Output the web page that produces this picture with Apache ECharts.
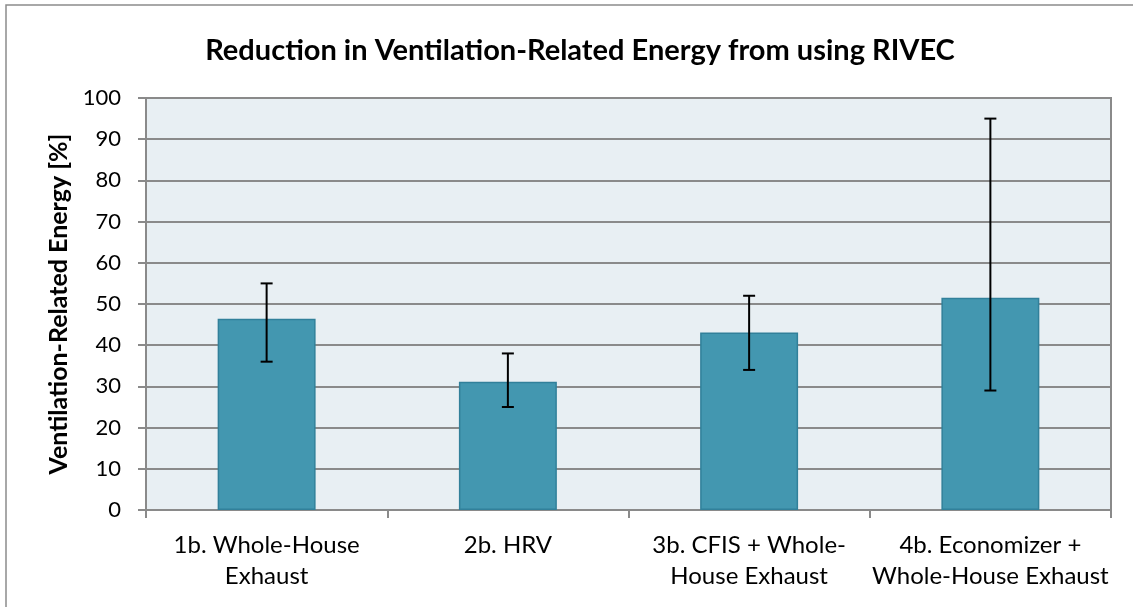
<!DOCTYPE html>
<html>
<head>
<meta charset="utf-8">
<script src="https://cdn.jsdelivr.net/npm/echarts@6/dist/echarts.min.js"></script>
<style>
  html, body { margin: 0; padding: 0; background: #fff; }
  #chart { width: 1133px; height: 607px; }
</style>
</head>
<body>
<div id="chart"></div>
<script>
const categories = ['1b. Whole-House\nExhaust', '2b. HRV', '3b. CFIS + Whole-\nHouse Exhaust', '4b. Economizer +\nWhole-House Exhaust'];
const values = [46.4, 31.1, 43.1, 51.5];
const errLow = [36, 25, 34, 29];
const errHigh = [55, 38, 52, 95];
const yTicks = [0, 10, 20, 30, 40, 50, 60, 70, 80, 90, 100];

const font = 'Lato, "Open Sans", sans-serif';
let chart = echarts.init(document.getElementById('chart'));

let option = {
  animation: false,
  title: {
    text: 'Reduction in Ventilation-Related Energy from using RIVEC',
    left: 575, top: 31, textAlign: 'center',
    textStyle: { fontFamily: font, fontWeight: 'bold', fontSize: 29, color: '#000' }
  },
  graphic: [{
    type: 'rect', silent: true, z: -10,
    shape: { x: 6, y: 5, width: 1140, height: 620 },
    style: { fill: 'none', stroke: '#8c8c8c', lineWidth: 1.5 }
  }],
  grid: {
    left: 146, right: 22, top: 98, bottom: 97,
    show: true, backgroundColor: '#e8eff3', borderColor: '#8a8a8a', borderWidth: 2
  },
  xAxis: {
    type: 'category',
    data: categories,
    axisLine: { lineStyle: { color: '#8a8a8a', width: 2 } },
    axisTick: { show: true, length: 8, lineStyle: { color: '#8a8a8a', width: 2 } },
    axisLabel: { fontFamily: font, fontSize: 24, color: '#000', margin: 20, lineHeight: 31, interval: 0 }
  },
  yAxis: {
    type: 'value',
    min: 0, max: 100, interval: 10,
    name: 'Ventilation-Related Energy [%]',
    nameLocation: 'middle', nameGap: 74,
    nameTextStyle: { fontFamily: font, fontWeight: 'bold', fontSize: 25, color: '#000' },
    axisLine: { show: true, lineStyle: { color: '#8a8a8a', width: 2 } },
    axisTick: { show: true, length: 8, lineStyle: { color: '#8a8a8a', width: 2 } },
    axisLabel: {
      fontFamily: font, fontSize: 22, color: '#000', margin: 25,
      formatter: v => yTicks.includes(v) ? String(v) : ''
    },
    splitLine: { lineStyle: { color: '#8a8a8a', width: 2 } }
  },
  series: [
    {
      type: 'bar',
      data: values,
      barWidth: '40.6%',
      itemStyle: { color: '#4397b0', borderColor: '#31809a', borderWidth: 1.5 }
    },
    {
      type: 'custom',
      data: categories.map((c, i) => [i, errLow[i], errHigh[i]]),
      z: 10,
      renderItem: function (params, api) {
        const lo = api.coord([api.value(0), api.value(1)]);
        const hi = api.coord([api.value(0), api.value(2)]);
        const cap = 6;
        const st = { stroke: '#000', lineWidth: 2 };
        return {
          type: 'group',
          children: [
            { type: 'line', shape: { x1: hi[0], y1: hi[1], x2: lo[0], y2: lo[1] }, style: st },
            { type: 'line', shape: { x1: hi[0] - cap, y1: hi[1], x2: hi[0] + cap, y2: hi[1] }, style: st },
            { type: 'line', shape: { x1: lo[0] - cap, y1: lo[1], x2: lo[0] + cap, y2: lo[1] }, style: st }
          ]
        };
      }
    }
  ]
};
chart.setOption(option);
window.addEventListener('resize', () => chart.resize());
</script>
</body>
</html>
